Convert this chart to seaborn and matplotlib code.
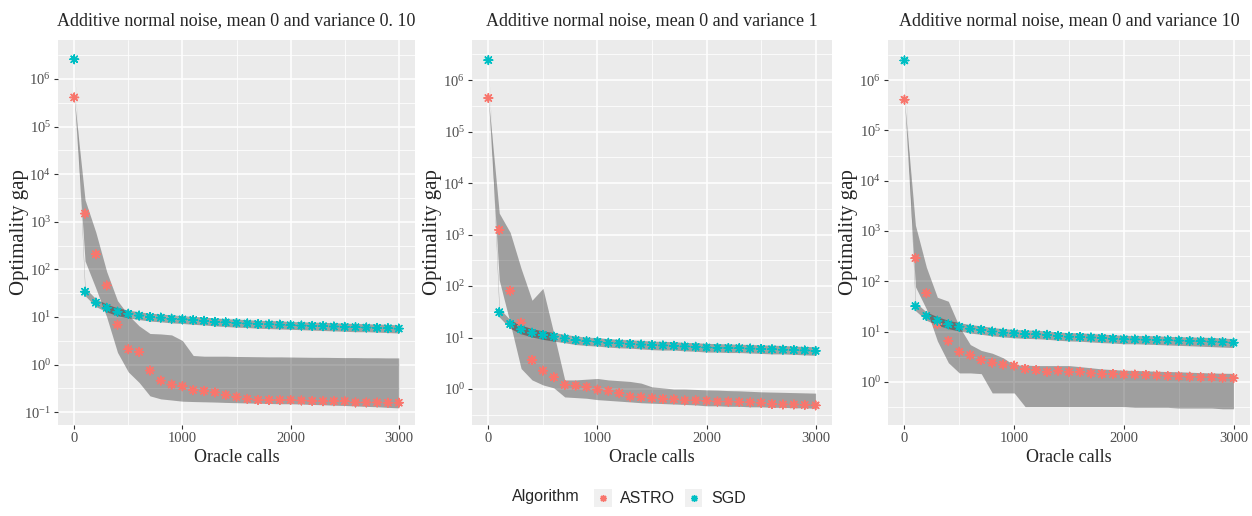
import numpy as np
import pandas as pd
import matplotlib
matplotlib.use("Agg")
import matplotlib.pyplot as plt
import matplotlib.ticker as mticker
import seaborn as sns
from matplotlib.patches import Rectangle
from matplotlib.lines import Line2D

# ── data ─────────────────────────────────────────────────────
CALLS = list(range(0, 3001, 100))
ALGOS = ["ASTRO", "SGD"]
COLORS = {"ASTRO": "#F8766D", "SGD": "#00BFC4"}
TITLES = ["Additive normal noise, mean 0 and variance 0. 10",
          "Additive normal noise, mean 0 and variance 1",
          "Additive normal noise, mean 0 and variance 10"]

# variance 0.1
astro_mean_1 = [4.1e5, 1490, 208, 46, 6.9, 2.1, 1.85, 0.75, 0.46, 0.38, 0.35, 0.29, 0.28, 0.26, 0.23, 0.21,
                0.19, 0.18, 0.18, 0.18, 0.18, 0.176, 0.172, 0.17, 0.17, 0.17, 0.16, 0.16, 0.16, 0.158, 0.158]
astro_lo_1 = [4.1e5, 150, 40, 10, 1.8, 0.7, 0.42, 0.22, 0.19, 0.18, 0.17, 0.167, 0.165, 0.163, 0.16, 0.158,
              0.156, 0.154, 0.152, 0.15, 0.15, 0.148, 0.145, 0.143, 0.14, 0.138, 0.135, 0.132, 0.13, 0.126, 0.123]
astro_hi_1 = [4.1e5, 2900, 600, 90, 22, 11, 6.5, 4.5, 4.4, 4.2, 3.2, 1.55, 1.5, 1.5, 1.5, 1.48,
              1.47, 1.46, 1.45, 1.45, 1.44, 1.43, 1.42, 1.42, 1.41, 1.4, 1.4, 1.39, 1.39, 1.38, 1.38]
sgd_mean_1 = [2.6e6, 34, 20, 15.6, 12.9, 11.7, 10.7, 10.0, 9.7, 9.2, 8.9, 8.6, 8.3, 7.9, 7.7, 7.5,
              7.3, 7.1, 7.0, 6.9, 6.7, 6.6, 6.5, 6.4, 6.3, 6.2, 6.1, 6.0, 5.9, 5.8, 5.7]
sgd_lo_1 = [2.6e6, 28, 16.5, 12.8, 10.6, 9.6, 8.8, 8.2, 7.9, 7.5, 7.3, 7.0, 6.8, 6.5, 6.3, 6.1,
            6.0, 5.8, 5.7, 5.6, 5.5, 5.4, 5.3, 5.2, 5.1, 5.0, 4.9, 4.9, 4.8, 4.7, 4.6]
sgd_hi_1 = [2.6e6, 41, 24, 18.7, 15.5, 14.0, 12.8, 12.0, 11.6, 11.0, 10.7, 10.3, 10.0, 9.5, 9.2, 9.0,
            8.8, 8.5, 8.4, 8.3, 8.0, 7.9, 7.8, 7.7, 7.6, 7.4, 7.3, 7.2, 7.1, 7.0, 6.8]

# variance 1
astro_mean_2 = [4.5e5, 1230, 81, 19.4, 3.66, 2.27, 1.69, 1.2, 1.16, 1.1, 0.97, 0.92, 0.83, 0.71, 0.69, 0.66,
                0.64, 0.63, 0.6, 0.6, 0.59, 0.57, 0.57, 0.56, 0.55, 0.54, 0.51, 0.5, 0.5, 0.49, 0.48]
astro_lo_2 = [4.5e5, 130, 19, 2.5, 1.5, 1.2, 1.05, 0.7, 0.68, 0.66, 0.62, 0.6, 0.58, 0.56, 0.54, 0.53,
              0.52, 0.51, 0.5, 0.49, 0.47, 0.47, 0.46, 0.46, 0.45, 0.45, 0.44, 0.44, 0.43, 0.43, 0.42]
astro_hi_2 = [4.5e5, 2600, 1100, 220, 53, 90, 12, 1.5, 1.5, 1.55, 1.6, 1.5, 1.45, 1.4, 1.3, 1.1,
              1.05, 1.0, 1.0, 0.98, 0.96, 0.95, 0.93, 0.92, 0.9, 0.88, 0.87, 0.86, 0.85, 0.84, 0.83]
sgd_mean_2 = [2.45e6, 31, 18.3, 14.4, 12.4, 11.2, 10.4, 9.6, 8.9, 8.5, 8.3, 7.9, 7.7, 7.5, 7.3, 7.1,
              7.0, 6.9, 6.7, 6.6, 6.4, 6.3, 6.25, 6.2, 6.1, 6.0, 5.9, 5.8, 5.7, 5.6, 5.5]
sgd_lo_2 = [2.45e6, 25, 15, 11.8, 10.2, 9.2, 8.5, 7.9, 7.3, 7.0, 6.8, 6.5, 6.3, 6.2, 6.0, 5.8,
            5.7, 5.7, 5.5, 5.4, 5.2, 5.2, 5.1, 5.1, 5.0, 4.9, 4.8, 4.8, 4.7, 4.6, 4.5]
sgd_hi_2 = [2.45e6, 37, 22, 17.3, 14.9, 13.4, 12.5, 11.5, 10.7, 10.2, 10.0, 9.5, 9.2, 9.0, 8.8, 8.5,
            8.4, 8.3, 8.0, 7.9, 7.7, 7.6, 7.5, 7.4, 7.3, 7.2, 7.1, 7.0, 6.8, 6.7, 6.6]

# variance 10
astro_mean_3 = [4.1e5, 288, 58, 14.1, 6.5, 3.96, 3.4, 2.7, 2.4, 2.2, 2.1, 1.8, 1.7, 1.58, 1.66, 1.58,
                1.58, 1.47, 1.43, 1.43, 1.4, 1.39, 1.37, 1.34, 1.3, 1.28, 1.26, 1.23, 1.23, 1.2, 1.18]
astro_lo_3 = [4.1e5, 78, 28, 6.5, 2.4, 1.5, 1.5, 1.45, 0.6, 0.6, 0.6, 0.32, 0.32, 0.32, 0.32, 0.32,
              0.32, 0.32, 0.32, 0.32, 0.32, 0.31, 0.31, 0.31, 0.31, 0.3, 0.3, 0.3, 0.3, 0.29, 0.29]
astro_hi_3 = [4.1e5, 1300, 190, 48, 40, 12.5, 5.5, 4.2, 3.7, 3.0, 2.15, 2.15, 2.1, 2.1, 2.1, 2.1,
              2.0, 1.9, 1.8, 1.75, 1.7, 1.68, 1.65, 1.62, 1.6, 1.58, 1.55, 1.52, 1.5, 1.48, 1.47]
sgd_mean_3 = [2.47e6, 32, 20.4, 16.4, 13.9, 12.5, 11.4, 10.8, 10.0, 9.5, 9.2, 8.9, 8.8, 8.6, 8.2, 7.9,
              7.8, 7.6, 7.4, 7.2, 7.0, 6.95, 6.9, 6.8, 6.7, 6.6, 6.5, 6.4, 6.3, 6.15, 6.0]
sgd_lo_3 = [2.47e6, 26, 16.7, 13.4, 11.4, 10.2, 9.3, 8.8, 8.2, 7.8, 7.5, 7.3, 7.2, 7.0, 6.7, 6.5,
            6.4, 6.2, 6.0, 5.9, 5.7, 5.7, 5.6, 5.5, 5.4, 5.3, 5.2, 5.1, 5.0, 4.9, 4.8]
sgd_hi_3 = [2.47e6, 38, 24.5, 19.7, 16.7, 15.0, 13.7, 13.0, 12.0, 11.4, 11.0, 10.7, 10.6, 10.3, 9.8, 9.5,
            9.4, 9.1, 8.9, 8.6, 8.4, 8.3, 8.3, 8.2, 8.0, 7.9, 7.8, 7.7, 7.6, 7.4, 7.2]

PANELS = [
    {"ASTRO": (astro_mean_1, astro_lo_1, astro_hi_1), "SGD": (sgd_mean_1, sgd_lo_1, sgd_hi_1)},
    {"ASTRO": (astro_mean_2, astro_lo_2, astro_hi_2), "SGD": (sgd_mean_2, sgd_lo_2, sgd_hi_2)},
    {"ASTRO": (astro_mean_3, astro_lo_3, astro_hi_3), "SGD": (sgd_mean_3, sgd_lo_3, sgd_hi_3)},
]
YLIMS = [(10 ** -1.27, 10 ** 6.82), (10 ** -0.70, 10 ** 6.78), (10 ** -0.86, 10 ** 6.80)]

# ── style ────────────────────────────────────────────────────
sns.set_theme(style="darkgrid", rc={"axes.facecolor": "#EBEBEB", "grid.color": "white"})
plt.rcParams["font.family"] = ["Liberation Serif", "DejaVu Serif"]
plt.rcParams["mathtext.default"] = "regular"
plt.rcParams["axes.unicode_minus"] = False
SANS = ["Liberation Sans", "DejaVu Sans"]
ASTERISK = (8, 2, 0)


class KeyHandler:
    """ggplot-style legend key: light square with the marker in its middle."""
    def legend_artist(self, legend, orig_handle, fontsize, handlebox):
        x0, y0 = -handlebox.xdescent, -handlebox.ydescent
        w, h = handlebox.width, handlebox.height
        tr = handlebox.get_transform()
        box = Rectangle((x0, y0), w, h, facecolor="#F0F0F0", edgecolor="none", transform=tr)
        mk = Line2D([x0 + w / 2], [y0 + h / 2], linestyle="", marker=ASTERISK,
                    markersize=5, markeredgewidth=1.0, color=orig_handle.get_color(), transform=tr)
        handlebox.add_artist(box)
        handlebox.add_artist(mk)
        return box


fig = plt.figure(figsize=(12.52, 5.16), dpi=100)
W, H = 1252, 516
boxes = [(58, 415), (472, 832), (888, 1250)]
top, bottom = 40, 425

for i, (x0, x1) in enumerate(boxes):
    ax = fig.add_axes([x0 / W, 1 - bottom / H, (x1 - x0) / W, (bottom - top) / H])
    panel = PANELS[i]
    rows = []
    for algo in ALGOS:
        mean, lo, hi = panel[algo]
        ax.fill_between(CALLS, lo, hi, color="black", alpha=0.32, linewidth=0)
        rows += [{"calls": c, "gap": m, "Algorithm": algo} for c, m in zip(CALLS, mean)]
    df = pd.DataFrame(rows)
    sns.scatterplot(data=df, x="calls", y="gap", hue="Algorithm", palette=COLORS,
                    marker=ASTERISK, s=38, linewidth=1.1, legend=False, ax=ax, zorder=3)

    ax.set_yscale("log")
    ax.set_ylim(*YLIMS[i])
    ax.set_xlim(-150, 3150)
    ax.xaxis.set_major_locator(mticker.FixedLocator([0, 1000, 2000, 3000]))
    ax.xaxis.set_minor_locator(mticker.FixedLocator([500, 1500, 2500]))
    ax.yaxis.set_major_locator(mticker.LogLocator(base=10, numticks=20))
    ax.yaxis.set_minor_locator(mticker.FixedLocator([10 ** (k + 0.5) for k in range(-2, 8)]))
    ax.yaxis.set_minor_formatter(mticker.NullFormatter())
    ax.grid(which="major", color="white", linewidth=1.1)
    ax.grid(which="minor", color="white", linewidth=0.55)
    ax.tick_params(which="major", length=3, width=0.8, color="#333333",
                   labelcolor="#4D4D4D", labelsize=10.5, pad=2, bottom=True, left=True)
    ax.tick_params(which="minor", length=0)
    for s in ax.spines.values():
        s.set_visible(False)

    ax.set_title(TITLES[i], fontsize=13, pad=11)
    ax.set_xlabel("Oracle calls", fontsize=13, labelpad=3)
    ax.set_ylabel("Optimality gap", fontsize=15)
    ax.yaxis.set_label_coords(-0.082, 0.5)

# ── legend at bottom ─────────────────────────────────────────
handles = [Line2D([], [], color=COLORS[a]) for a in ALGOS]
fig.text(546 / W, 1 - 497 / H, "Algorithm", ha="center", va="center",
         family=SANS, fontsize=11.5)
fig.legend(handles, ALGOS, handler_map={Line2D: KeyHandler()},
           ncol=2, loc="center", bbox_to_anchor=(670 / W, 1 - 498 / H), frameon=False,
           handlelength=1.1, handleheight=1.4, handletextpad=0.55, columnspacing=0.6,
           borderaxespad=0, prop={"family": SANS, "size": 11.5})

plt.savefig("out.png", dpi=100)
